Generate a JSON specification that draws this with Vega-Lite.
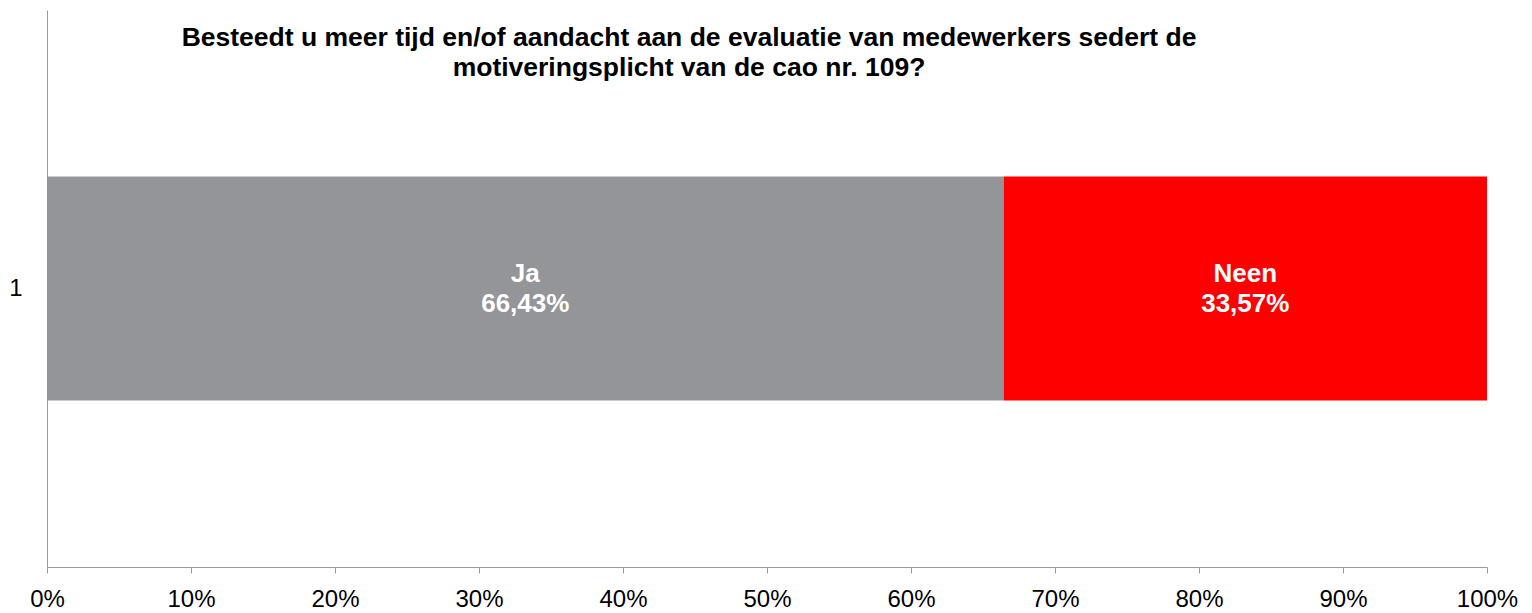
{
  "$schema": "https://vega.github.io/schema/vega-lite/v6.json",
  "width": 1440,
  "height": 557,
  "autosize": {"type": "none"},
  "padding": {"left": 47, "top": 10, "right": 45, "bottom": 46},
  "background": "white",
  "config": {"view": {"stroke": null}},
  "title": {
    "text": ["Besteedt u meer tijd en/of aandacht aan de evaluatie van medewerkers sedert de", "motiveringsplicht van de cao nr. 109?"],
    "font": "Liberation Sans",
    "fontSize": 26.5,
    "fontWeight": "bold",
    "color": "black",
    "anchor": "middle",
    "lineHeight": 30,
    "dx": -78,
    "dy": 75
  },
  "data": {"values": [
    {"row": "1", "answer": "Ja", "pct": 66.43},
    {"row": "1", "answer": "Neen", "pct": 33.57}
  ]},
  "transform": [
    {"stack": "pct", "groupby": ["row"], "sort": [{"field": "answer", "order": "ascending"}], "as": ["x0", "x1"]},
    {"calculate": "(datum.x0 + datum.x1) / 2", "as": "mid"},
    {"calculate": "datum.answer + '\\n' + replace(format(datum.pct, '.2f'), '.', ',') + '%'", "as": "label"}
  ],
  "encoding": {
    "y": {
      "field": "row", "type": "nominal",
      "scale": {"paddingInner": 0, "paddingOuter": 0.743},
      "axis": {"title": null, "ticks": false, "labelFontSize": 24, "labelFont": "Liberation Sans", "labelColor": "black", "labelPadding": 25, "domainColor": "#999999", "labelAngle": 0}
    }
  },
  "layer": [
    {
      "mark": {"type": "bar"},
      "encoding": {
        "x": {
          "field": "x0", "type": "quantitative",
          "scale": {"domain": [0, 100], "nice": false},
          "axis": {"title": null, "values": [0,10,20,30,40,50,60,70,80,90,100], "labelExpr": "datum.value + '%'", "grid": false, "tickSize": 6, "domainColor": "#999999", "tickColor": "#999999", "labelFontSize": 24, "labelFont": "Liberation Sans", "labelColor": "black", "labelPadding": 14, "labelFlush": false, "labelOverlap": false}
        },
        "x2": {"field": "x1"},
        "color": {
          "field": "answer", "type": "nominal",
          "scale": {"domain": ["Ja", "Neen"], "range": ["#939598", "#ff0000"]},
          "legend": null
        }
      }
    },
    {
      "mark": {"type": "text", "color": "white", "font": "Liberation Sans", "fontWeight": "bold", "fontSize": 26, "lineBreak": "\n", "lineHeight": 30, "baseline": "middle", "align": "center", "dy": -15},
      "encoding": {
        "x": {"field": "mid", "type": "quantitative"},
        "text": {"field": "label"}
      }
    }
  ]
}
